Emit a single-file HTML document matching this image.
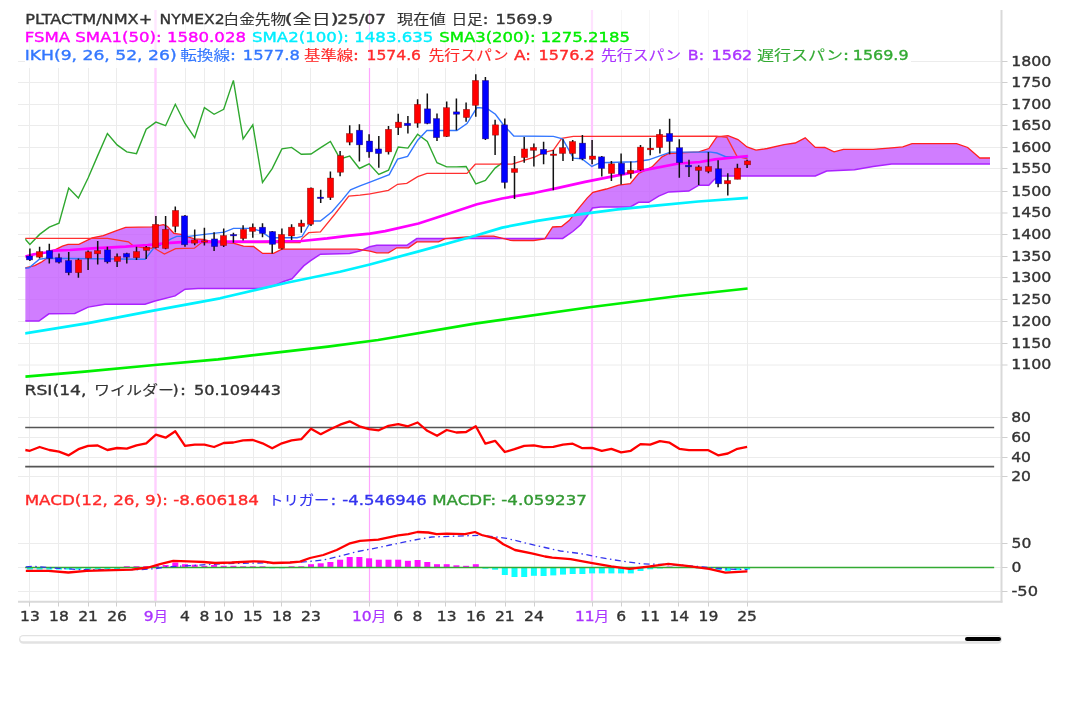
<!DOCTYPE html>
<html><head><meta charset="utf-8"><title>chart</title>
<style>html,body{margin:0;padding:0;background:#fff;} body{width:1080px;height:706px;position:relative;overflow:hidden;}</style>
</head><body>
<svg width="1080" height="706" viewBox="0 0 1080 706" style="position:absolute;left:0;top:0">
<defs><clipPath id="cp"><rect x="25.2" y="10" width="969.2" height="592"/></clipPath></defs>
<line x1="18" y1="365" x2="1001" y2="365" stroke="#ececec" stroke-width="1"/>
<line x1="18" y1="343.5" x2="1001" y2="343.5" stroke="#ececec" stroke-width="1"/>
<line x1="18" y1="321.5" x2="1001" y2="321.5" stroke="#ececec" stroke-width="1"/>
<line x1="18" y1="299.5" x2="1001" y2="299.5" stroke="#ececec" stroke-width="1"/>
<line x1="18" y1="277.5" x2="1001" y2="277.5" stroke="#ececec" stroke-width="1"/>
<line x1="18" y1="256.5" x2="1001" y2="256.5" stroke="#ececec" stroke-width="1"/>
<line x1="18" y1="234.5" x2="1001" y2="234.5" stroke="#ececec" stroke-width="1"/>
<line x1="18" y1="213" x2="1001" y2="213" stroke="#ececec" stroke-width="1"/>
<line x1="18" y1="191.5" x2="1001" y2="191.5" stroke="#ececec" stroke-width="1"/>
<line x1="18" y1="168.5" x2="1001" y2="168.5" stroke="#ececec" stroke-width="1"/>
<line x1="18" y1="147.5" x2="1001" y2="147.5" stroke="#ececec" stroke-width="1"/>
<line x1="18" y1="125.5" x2="1001" y2="125.5" stroke="#ececec" stroke-width="1"/>
<line x1="18" y1="104.5" x2="1001" y2="104.5" stroke="#ececec" stroke-width="1"/>
<line x1="18" y1="82.5" x2="1001" y2="82.5" stroke="#ececec" stroke-width="1"/>
<line x1="911" y1="61.5" x2="1001" y2="61.5" stroke="#ececec" stroke-width="1"/>
<line x1="18" y1="61.5" x2="25" y2="61.5" stroke="#ececec" stroke-width="1"/>
<line x1="18" y1="417.5" x2="1001" y2="417.5" stroke="#ececec" stroke-width="1"/>
<line x1="18" y1="437.5" x2="1001" y2="437.5" stroke="#ececec" stroke-width="1"/>
<line x1="18" y1="457.5" x2="1001" y2="457.5" stroke="#ececec" stroke-width="1"/>
<line x1="18" y1="476.5" x2="1001" y2="476.5" stroke="#ececec" stroke-width="1"/>
<line x1="18" y1="543.5" x2="1001" y2="543.5" stroke="#ececec" stroke-width="1"/>
<line x1="18" y1="567.5" x2="1001" y2="567.5" stroke="#ececec" stroke-width="1"/>
<line x1="18" y1="591.5" x2="1001" y2="591.5" stroke="#ececec" stroke-width="1"/>
<line x1="29.5" y1="10" x2="29.5" y2="601" stroke="#ececec" stroke-width="1"/>
<line x1="58.5" y1="10" x2="58.5" y2="601" stroke="#ececec" stroke-width="1"/>
<line x1="88.5" y1="10" x2="88.5" y2="601" stroke="#ececec" stroke-width="1"/>
<line x1="116.5" y1="10" x2="116.5" y2="601" stroke="#ececec" stroke-width="1"/>
<line x1="155.5" y1="10" x2="155.5" y2="601" stroke="#ffcfff" stroke-width="2.4"/>
<line x1="185.5" y1="10" x2="185.5" y2="601" stroke="#ececec" stroke-width="1"/>
<line x1="204.5" y1="10" x2="204.5" y2="601" stroke="#ececec" stroke-width="1"/>
<line x1="224.5" y1="10" x2="224.5" y2="601" stroke="#ececec" stroke-width="1"/>
<line x1="253.5" y1="10" x2="253.5" y2="601" stroke="#ececec" stroke-width="1"/>
<line x1="281.5" y1="10" x2="281.5" y2="601" stroke="#ececec" stroke-width="1"/>
<line x1="310.5" y1="10" x2="310.5" y2="601" stroke="#ececec" stroke-width="1"/>
<line x1="369.5" y1="10" x2="369.5" y2="601" stroke="#ffa6ff" stroke-width="1.2"/>
<line x1="397.5" y1="10" x2="397.5" y2="601" stroke="#ececec" stroke-width="1"/>
<line x1="418.5" y1="10" x2="418.5" y2="601" stroke="#ececec" stroke-width="1"/>
<line x1="445.5" y1="10" x2="445.5" y2="601" stroke="#ececec" stroke-width="1"/>
<line x1="475.5" y1="10" x2="475.5" y2="601" stroke="#ececec" stroke-width="1"/>
<line x1="505.5" y1="10" x2="505.5" y2="601" stroke="#ececec" stroke-width="1"/>
<line x1="534.5" y1="10" x2="534.5" y2="601" stroke="#ececec" stroke-width="1"/>
<line x1="592" y1="10" x2="592" y2="601" stroke="#ffc6ff" stroke-width="2.2"/>
<line x1="621.5" y1="10" x2="621.5" y2="601" stroke="#ececec" stroke-width="1"/>
<line x1="649.5" y1="10" x2="649.5" y2="601" stroke="#ececec" stroke-width="1"/>
<line x1="678.5" y1="10" x2="678.5" y2="601" stroke="#ececec" stroke-width="1"/>
<line x1="708.5" y1="10" x2="708.5" y2="601" stroke="#ececec" stroke-width="1"/>
<line x1="747.5" y1="10" x2="747.5" y2="601" stroke="#ececec" stroke-width="1"/>
<g clip-path="url(#cp)">
<polygon points="25.2,267.8 34.7,265.6 41.3,262.2 45.8,258.9 53.6,250.6 62.4,246.1 68.0,244.3 78.9,244.4 92.2,237.8 103.3,235.6 115.9,230.9 125.6,227.4 151.8,226.9 163.5,224.6 167.5,226.5 173.9,233.3 181.0,234.4 188.9,237.2 194.4,238.9 203.3,239.4 210.0,241.1 233.2,243.1 243.5,246.1 253.5,246.5 262.7,253.4 273.6,253.4 281.9,249.2 357.1,249.2 370.0,251.2 376.7,252.8 388.4,252.8 396.8,247.8 408.5,247.8 416.8,241.9 438.6,241.9 445.2,238.6 467.0,236.9 477.0,236.1 493.7,236.1 510.4,240.3 513.4,240.5 533.6,240.5 544.8,238.8 552.6,227.0 561.6,226.5 569.4,220.3 577.2,210.2 587.3,197.9 592.9,192.3 606.3,189.0 618.6,185.2 630.3,183.6 638.6,173.5 652.0,166.9 662.0,156.8 668.7,153.5 698.8,151.8 708.8,148.5 716.8,136.8 728.0,135.7 738.0,139.6 747.0,146.9 756.0,150.2 767.2,148.5 784.0,144.6 795.2,143.0 805.2,137.9 815.3,147.4 824.8,147.5 834.1,151.9 843.4,149.3 873.1,149.3 891.6,147.8 902.8,146.9 912.0,143.7 956.6,143.7 967.7,147.5 979.8,158.0 990.0,158.0 990.0,164.0 891.6,164.0 873.1,166.4 854.5,169.7 826.7,171.0 815.3,176.0 720.1,176.0 714.6,179.3 708.8,185.2 698.8,185.2 688.8,191.1 668.7,191.9 658.7,196.1 648.7,202.3 638.6,202.3 630.3,207.0 600.8,206.9 592.4,208.0 587.3,215.8 580.6,224.8 572.8,231.5 562.7,238.4 416.8,238.6 406.8,245.3 376.7,245.3 369.7,246.8 360.7,250.7 349.6,253.5 320.4,254.2 310.3,260.9 303.7,265.9 292.0,278.8 283.6,281.5 273.6,286.0 261.9,288.5 198.0,288.6 185.1,289.2 175.1,295.9 155.0,301.0 145.0,304.3 104.9,304.3 88.2,307.1 74.8,313.5 48.9,313.8 38.9,321.0 25.2,321.0" fill="#c45cff" fill-opacity="0.8" stroke="none"/>
<polyline points="25.2,321.0 38.9,321.0 48.9,313.8 74.8,313.5 88.2,307.1 104.9,304.3 145.0,304.3 155.0,301.0 175.1,295.9 185.1,289.2 198.0,288.6 261.9,288.5 273.6,286.0 283.6,281.5 292.0,278.8 303.7,265.9 310.3,260.9 320.4,254.2 349.6,253.5 360.7,250.7 369.7,246.8 376.7,245.3 406.8,245.3 416.8,238.6 562.7,238.4 572.8,231.5 580.6,224.8 587.3,215.8 592.4,208.0 600.8,206.9 630.3,207.0 638.6,202.3 648.7,202.3 658.7,196.1 668.7,191.9 688.8,191.1 698.8,185.2 708.8,185.2 714.6,179.3 720.1,176.0 815.3,176.0 826.7,171.0 854.5,169.7 873.1,166.4 891.6,164.0 990.0,164.0" fill="none" stroke="#aa22ff" stroke-width="1.5"/>
<polyline points="25.2,267.8 34.7,265.6 41.3,262.2 45.8,258.9 53.6,250.6 62.4,246.1 68.0,244.3 78.9,244.4 92.2,237.8 103.3,235.6 115.9,230.9 125.6,227.4 151.8,226.9 163.5,224.6 167.5,226.5 173.9,233.3 181.0,234.4 188.9,237.2 194.4,238.9 203.3,239.4 210.0,241.1 233.2,243.1 243.5,246.1 253.5,246.5 262.7,253.4 273.6,253.4 281.9,249.2 357.1,249.2 370.0,251.2 376.7,252.8 388.4,252.8 396.8,247.8 408.5,247.8 416.8,241.9 438.6,241.9 445.2,238.6 467.0,236.9 477.0,236.1 493.7,236.1 510.4,240.3 513.4,240.5 533.6,240.5 544.8,238.8 552.6,227.0 561.6,226.5 569.4,220.3 577.2,210.2 587.3,197.9 592.9,192.3 606.3,189.0 618.6,185.2 630.3,183.6 638.6,173.5 652.0,166.9 662.0,156.8 668.7,153.5 698.8,151.8 708.8,148.5 716.8,136.8 728.0,135.7 738.0,139.6 747.0,146.9 756.0,150.2 767.2,148.5 784.0,144.6 795.2,143.0 805.2,137.9 815.3,147.4 824.8,147.5 834.1,151.9 843.4,149.3 873.1,149.3 891.6,147.8 902.8,146.9 912.0,143.7 956.6,143.7 967.7,147.5 979.8,158.0 990.0,158.0" fill="none" stroke="#ff2020" stroke-width="1.3"/>
<polyline points="20.2,233.5 29.9,244.4 39.6,234.4 49.3,227.2 59.0,223.2 68.7,188.1 78.4,198.1 88.1,178.0 97.7,155.6 107.4,133.5 117.1,144.9 126.8,151.9 136.5,153.6 146.2,129.3 155.9,122.1 165.6,125.7 175.3,104.3 185.0,123.5 194.7,137.7 204.4,107.6 214.1,114.3 223.7,109.3 233.4,80.4 243.1,138.9 252.8,124.8 262.5,182.5 272.2,168.6 281.9,148.9 291.6,147.4 301.3,154.3 311.0,154.0 320.7,147.6 330.4,141.5 340.1,158.8 349.7,156.0 359.4,168.5 369.1,163.8 378.8,174.4 388.5,170.2 398.2,147.1 407.9,148.1 417.6,134.3 427.3,141.5 437.0,162.7 446.7,166.9 456.4,166.9 466.1,166.5 475.8,183.8 485.4,180.5 495.1,168.1 504.8,160.9" fill="none" stroke="#2fa82f" stroke-width="1.4"/>
<polyline points="25.2,238.3 107.5,238.4 128.4,241.8 133.4,246.0 145.1,248.0 154.4,248.3 164.4,254.1 175.6,248.6 194.4,248.2 201.6,242.6 300.0,242.6 302.0,238.6 308.7,232.7 320.4,231.9 335.4,213.5 348.8,196.0 360.0,195.1 370.0,193.8 388.4,190.4 397.6,184.3 406.8,183.4 417.7,176.7 426.9,173.4 467.0,173.4 475.3,164.2 512.1,164.2 535.0,156.8 543.4,152.6 553.4,150.1 561.7,138.4 573.4,136.4 716.8,136.2 726.9,137.4 737.0,156.4 747.6,158.9" fill="none" stroke="#ff3030" stroke-width="1.3"/>
<polyline points="25.2,268.3 29.1,267.8 39.1,259.4 45.8,258.3 145.1,259.2 153.5,248.4 160.2,245.1 171.1,238.9 176.7,236.4 181.1,236.1 188.9,236.4 204.4,234.4 224.3,232.1 233.5,228.4 251.0,228.4 260.2,230.9 268.6,236.7 271.9,237.7 297.0,237.7 302.0,236.5 308.7,225.2 313.7,221.0 320.4,221.0 332.0,211.8 342.1,200.1 350.5,189.8 360.0,185.9 370.0,182.1 389.2,174.7 397.6,159.2 407.6,156.4 417.7,140.2 426.9,130.5 456.9,130.5 467.0,123.5 477.0,107.6 487.0,108.4 495.4,114.3 503.7,125.2 513.8,136.0 553.4,136.4 562.6,138.8 573.4,158.2 581.8,158.8 591.8,166.5 600.2,162.7 635.3,161.8 648.7,159.8 662.0,155.2 670.4,152.1 702.1,152.1 709.0,151.9 716.8,153.0 725.7,156.7 737.0,156.7 747.6,157.5" fill="none" stroke="#3377ff" stroke-width="1.4"/>
<polyline points="25.3,376.7 84.7,371.7 154.7,365.0 218.0,359.3 284.7,351.7 328.0,346.7 378.0,340.0 474.8,323.7 591.5,307.0 678.5,296.0 747.6,288.5" fill="none" stroke="#00f000" stroke-width="2.7" stroke-linejoin="round"/>
<polyline points="25.0,333.3 86.7,323.3 153.3,310.7 220.0,298.3 286.7,282.7 340.0,271.7 369.8,264.5 417.8,251.6 470.0,237.2 502.2,227.6 537.1,220.9 577.4,214.7 617.7,209.3 658.0,205.3 698.3,201.5 748.0,197.9" fill="none" stroke="#00f2ff" stroke-width="2.7" stroke-linejoin="round"/>
<polyline points="25.2,256.7 33.6,254.4 45.8,252.5 53.6,250.6 70.0,250.0 92.2,248.3 125.6,246.7 147.8,245.0 170.0,242.8 190.0,241.7 260.0,241.6 301.4,241.0 327.2,238.4 349.6,235.6 370.0,233.6 385.1,231.1 418.5,223.5 446.9,214.3 477.0,204.3 502.1,198.5 535.0,192.8 556.0,188.4 585.1,181.9 635.3,171.9 678.7,163.5 700.0,162.0 715.0,159.3 748.1,156.0" fill="none" stroke="#ff00ff" stroke-width="2.7" stroke-linejoin="round"/>
<line x1="29.9" y1="248.5" x2="29.9" y2="261.0" stroke="#111" stroke-width="1.5"/>
<rect x="26.3" y="256.0" width="6.4" height="3.9" fill="#0000ff" stroke="rgba(50,0,0,0.45)" stroke-width="0.6"/>
<line x1="39.6" y1="246.8" x2="39.6" y2="258.5" stroke="#111" stroke-width="1.5"/>
<rect x="36.3" y="251.5" width="6.4" height="5.7" fill="#ff0000" stroke="rgba(50,0,0,0.45)" stroke-width="0.6"/>
<line x1="49.3" y1="243.8" x2="49.3" y2="263.5" stroke="#111" stroke-width="1.5"/>
<rect x="46.3" y="250.5" width="6.4" height="8.0" fill="#0000ff" stroke="rgba(50,0,0,0.45)" stroke-width="0.6"/>
<line x1="59.0" y1="253.5" x2="59.0" y2="263.5" stroke="#111" stroke-width="1.5"/>
<rect x="55.3" y="257.7" width="6.4" height="4.5" fill="#0000ff" stroke="rgba(50,0,0,0.45)" stroke-width="0.6"/>
<line x1="68.7" y1="252.0" x2="68.7" y2="275.2" stroke="#111" stroke-width="1.5"/>
<rect x="65.3" y="260.5" width="6.4" height="12.2" fill="#0000ff" stroke="rgba(50,0,0,0.45)" stroke-width="0.6"/>
<line x1="78.4" y1="258.5" x2="78.4" y2="277.7" stroke="#111" stroke-width="1.5"/>
<rect x="75.3" y="259.9" width="6.4" height="12.8" fill="#ff0000" stroke="rgba(50,0,0,0.45)" stroke-width="0.6"/>
<line x1="88.1" y1="250.5" x2="88.1" y2="270.0" stroke="#111" stroke-width="1.5"/>
<rect x="85.3" y="251.8" width="6.4" height="6.4" fill="#ff0000" stroke="rgba(50,0,0,0.45)" stroke-width="0.6"/>
<line x1="97.7" y1="241.0" x2="97.7" y2="264.4" stroke="#111" stroke-width="1.5"/>
<rect x="94.3" y="250.5" width="6.4" height="3.3" fill="#ff0000" stroke="rgba(50,0,0,0.45)" stroke-width="0.6"/>
<line x1="107.4" y1="246.8" x2="107.4" y2="263.5" stroke="#111" stroke-width="1.5"/>
<rect x="104.3" y="249.8" width="6.4" height="12.1" fill="#0000ff" stroke="rgba(50,0,0,0.45)" stroke-width="0.6"/>
<line x1="117.1" y1="253.5" x2="117.1" y2="266.9" stroke="#111" stroke-width="1.5"/>
<rect x="114.3" y="256.5" width="6.4" height="5.0" fill="#ff0000" stroke="rgba(50,0,0,0.45)" stroke-width="0.6"/>
<line x1="126.8" y1="252.7" x2="126.8" y2="263.5" stroke="#111" stroke-width="1.5"/>
<rect x="123.3" y="253.5" width="6.4" height="3.7" fill="#0000ff" stroke="rgba(50,0,0,0.45)" stroke-width="0.6"/>
<line x1="136.5" y1="246.8" x2="136.5" y2="259.9" stroke="#111" stroke-width="1.5"/>
<rect x="133.3" y="251.5" width="6.4" height="6.2" fill="#ff0000" stroke="rgba(50,0,0,0.45)" stroke-width="0.6"/>
<line x1="146.2" y1="246.0" x2="146.2" y2="258.9" stroke="#111" stroke-width="1.5"/>
<rect x="143.3" y="247.2" width="6.4" height="3.3" fill="#ff0000" stroke="rgba(50,0,0,0.45)" stroke-width="0.6"/>
<line x1="155.9" y1="215.9" x2="155.9" y2="248.5" stroke="#111" stroke-width="1.5"/>
<rect x="152.3" y="224.3" width="6.4" height="23.4" fill="#ff0000" stroke="rgba(50,0,0,0.45)" stroke-width="0.6"/>
<line x1="165.6" y1="215.9" x2="165.6" y2="249.3" stroke="#111" stroke-width="1.5"/>
<rect x="162.3" y="229.3" width="6.4" height="19.2" fill="#ff0000" stroke="rgba(50,0,0,0.45)" stroke-width="0.6"/>
<line x1="175.3" y1="206.4" x2="175.3" y2="232.6" stroke="#111" stroke-width="1.5"/>
<rect x="172.3" y="210.4" width="6.4" height="16.0" fill="#ff0000" stroke="rgba(50,0,0,0.45)" stroke-width="0.6"/>
<line x1="185.0" y1="215.0" x2="185.0" y2="246.8" stroke="#111" stroke-width="1.5"/>
<rect x="181.3" y="215.9" width="6.4" height="28.9" fill="#0000ff" stroke="rgba(50,0,0,0.45)" stroke-width="0.6"/>
<line x1="194.7" y1="229.4" x2="194.7" y2="245.2" stroke="#111" stroke-width="1.5"/>
<rect x="191.3" y="239.9" width="6.4" height="3.3" fill="#ff0000" stroke="rgba(50,0,0,0.45)" stroke-width="0.6"/>
<line x1="204.4" y1="227.7" x2="204.4" y2="245.6" stroke="#111" stroke-width="1.5"/>
<rect x="201.3" y="240.7" width="6.4" height="1.5" fill="#ff0000" stroke="rgba(50,0,0,0.45)" stroke-width="0.6"/>
<line x1="214.1" y1="232.2" x2="214.1" y2="251.0" stroke="#111" stroke-width="1.5"/>
<rect x="211.3" y="238.9" width="6.4" height="7.7" fill="#0000ff" stroke="rgba(50,0,0,0.45)" stroke-width="0.6"/>
<line x1="223.7" y1="228.5" x2="223.7" y2="246.9" stroke="#111" stroke-width="1.5"/>
<rect x="220.3" y="235.5" width="6.4" height="10.1" fill="#ff0000" stroke="rgba(50,0,0,0.45)" stroke-width="0.6"/>
<line x1="233.4" y1="232.7" x2="233.4" y2="242.7" stroke="#111" stroke-width="1.5"/>
<rect x="230.3" y="234.4" width="6.4" height="1.5" fill="#0000ff" stroke="rgba(50,0,0,0.45)" stroke-width="0.6"/>
<line x1="243.1" y1="225.2" x2="243.1" y2="240.6" stroke="#111" stroke-width="1.5"/>
<rect x="240.3" y="229.4" width="6.4" height="9.2" fill="#ff0000" stroke="rgba(50,0,0,0.45)" stroke-width="0.6"/>
<line x1="252.8" y1="223.5" x2="252.8" y2="237.7" stroke="#111" stroke-width="1.5"/>
<rect x="249.3" y="227.2" width="6.4" height="4.3" fill="#ff0000" stroke="rgba(50,0,0,0.45)" stroke-width="0.6"/>
<line x1="262.5" y1="223.2" x2="262.5" y2="237.2" stroke="#111" stroke-width="1.5"/>
<rect x="259.3" y="227.2" width="6.4" height="6.3" fill="#0000ff" stroke="rgba(50,0,0,0.45)" stroke-width="0.6"/>
<line x1="272.2" y1="231.0" x2="272.2" y2="253.6" stroke="#111" stroke-width="1.5"/>
<rect x="269.3" y="231.5" width="6.4" height="12.9" fill="#0000ff" stroke="rgba(50,0,0,0.45)" stroke-width="0.6"/>
<line x1="281.9" y1="228.5" x2="281.9" y2="249.4" stroke="#111" stroke-width="1.5"/>
<rect x="278.3" y="234.4" width="6.4" height="14.2" fill="#ff0000" stroke="rgba(50,0,0,0.45)" stroke-width="0.6"/>
<line x1="291.6" y1="224.3" x2="291.6" y2="239.9" stroke="#111" stroke-width="1.5"/>
<rect x="288.3" y="227.2" width="6.4" height="8.8" fill="#ff0000" stroke="rgba(50,0,0,0.45)" stroke-width="0.6"/>
<line x1="301.3" y1="219.8" x2="301.3" y2="232.7" stroke="#111" stroke-width="1.5"/>
<rect x="298.3" y="223.2" width="6.4" height="3.3" fill="#ff0000" stroke="rgba(50,0,0,0.45)" stroke-width="0.6"/>
<line x1="311.0" y1="187.6" x2="311.0" y2="226.0" stroke="#111" stroke-width="1.5"/>
<rect x="307.3" y="188.1" width="6.4" height="36.2" fill="#ff0000" stroke="rgba(50,0,0,0.45)" stroke-width="0.6"/>
<line x1="320.7" y1="189.8" x2="320.7" y2="203.1" stroke="#111" stroke-width="1.5"/>
<rect x="317.3" y="197.1" width="6.4" height="1.5" fill="#0000ff" stroke="rgba(50,0,0,0.45)" stroke-width="0.6"/>
<line x1="330.4" y1="171.4" x2="330.4" y2="200.1" stroke="#111" stroke-width="1.5"/>
<rect x="327.3" y="178.0" width="6.4" height="19.6" fill="#ff0000" stroke="rgba(50,0,0,0.45)" stroke-width="0.6"/>
<line x1="340.1" y1="151.0" x2="340.1" y2="176.2" stroke="#111" stroke-width="1.5"/>
<rect x="337.3" y="155.6" width="6.4" height="16.7" fill="#ff0000" stroke="rgba(50,0,0,0.45)" stroke-width="0.6"/>
<line x1="349.7" y1="125.2" x2="349.7" y2="145.2" stroke="#111" stroke-width="1.5"/>
<rect x="346.3" y="133.5" width="6.4" height="8.7" fill="#ff0000" stroke="rgba(50,0,0,0.45)" stroke-width="0.6"/>
<line x1="359.4" y1="124.3" x2="359.4" y2="161.6" stroke="#111" stroke-width="1.5"/>
<rect x="356.3" y="130.2" width="6.4" height="14.7" fill="#0000ff" stroke="rgba(50,0,0,0.45)" stroke-width="0.6"/>
<line x1="369.1" y1="134.3" x2="369.1" y2="157.7" stroke="#111" stroke-width="1.5"/>
<rect x="366.3" y="141.0" width="6.4" height="10.9" fill="#0000ff" stroke="rgba(50,0,0,0.45)" stroke-width="0.6"/>
<line x1="378.8" y1="136.0" x2="378.8" y2="167.8" stroke="#111" stroke-width="1.5"/>
<rect x="375.3" y="148.9" width="6.4" height="4.7" fill="#0000ff" stroke="rgba(50,0,0,0.45)" stroke-width="0.6"/>
<line x1="388.5" y1="126.0" x2="388.5" y2="154.4" stroke="#111" stroke-width="1.5"/>
<rect x="385.3" y="129.3" width="6.4" height="22.6" fill="#ff0000" stroke="rgba(50,0,0,0.45)" stroke-width="0.6"/>
<line x1="398.2" y1="113.8" x2="398.2" y2="134.9" stroke="#111" stroke-width="1.5"/>
<rect x="395.3" y="122.1" width="6.4" height="5.6" fill="#ff0000" stroke="rgba(50,0,0,0.45)" stroke-width="0.6"/>
<line x1="407.9" y1="116.0" x2="407.9" y2="133.5" stroke="#111" stroke-width="1.5"/>
<rect x="404.3" y="123.2" width="6.4" height="2.5" fill="#0000ff" stroke="rgba(50,0,0,0.45)" stroke-width="0.6"/>
<line x1="417.6" y1="99.2" x2="417.6" y2="127.7" stroke="#111" stroke-width="1.5"/>
<rect x="414.3" y="104.3" width="6.4" height="18.9" fill="#ff0000" stroke="rgba(50,0,0,0.45)" stroke-width="0.6"/>
<line x1="427.3" y1="93.4" x2="427.3" y2="124.3" stroke="#111" stroke-width="1.5"/>
<rect x="424.3" y="108.8" width="6.4" height="14.7" fill="#0000ff" stroke="rgba(50,0,0,0.45)" stroke-width="0.6"/>
<line x1="437.0" y1="113.5" x2="437.0" y2="141.0" stroke="#111" stroke-width="1.5"/>
<rect x="433.3" y="118.5" width="6.4" height="19.2" fill="#0000ff" stroke="rgba(50,0,0,0.45)" stroke-width="0.6"/>
<line x1="446.7" y1="101.4" x2="446.7" y2="136.9" stroke="#111" stroke-width="1.5"/>
<rect x="443.3" y="107.6" width="6.4" height="28.9" fill="#ff0000" stroke="rgba(50,0,0,0.45)" stroke-width="0.6"/>
<line x1="456.4" y1="98.4" x2="456.4" y2="130.2" stroke="#111" stroke-width="1.5"/>
<rect x="453.3" y="111.8" width="6.4" height="2.5" fill="#0000ff" stroke="rgba(50,0,0,0.45)" stroke-width="0.6"/>
<line x1="466.1" y1="102.6" x2="466.1" y2="121.8" stroke="#111" stroke-width="1.5"/>
<rect x="463.3" y="109.3" width="6.4" height="8.3" fill="#ff0000" stroke="rgba(50,0,0,0.45)" stroke-width="0.6"/>
<line x1="475.8" y1="74.2" x2="475.8" y2="116.8" stroke="#111" stroke-width="1.5"/>
<rect x="472.3" y="80.4" width="6.4" height="25.0" fill="#ff0000" stroke="rgba(50,0,0,0.45)" stroke-width="0.6"/>
<line x1="485.4" y1="77.0" x2="485.4" y2="139.9" stroke="#111" stroke-width="1.5"/>
<rect x="482.3" y="80.4" width="6.4" height="58.5" fill="#0000ff" stroke="rgba(50,0,0,0.45)" stroke-width="0.6"/>
<line x1="495.1" y1="119.8" x2="495.1" y2="154.9" stroke="#111" stroke-width="1.5"/>
<rect x="492.3" y="124.8" width="6.4" height="10.4" fill="#ff0000" stroke="rgba(50,0,0,0.45)" stroke-width="0.6"/>
<line x1="504.8" y1="118.5" x2="504.8" y2="188.4" stroke="#111" stroke-width="1.5"/>
<rect x="501.3" y="124.8" width="6.4" height="57.7" fill="#0000ff" stroke="rgba(50,0,0,0.45)" stroke-width="0.6"/>
<line x1="514.5" y1="156.0" x2="514.5" y2="199.0" stroke="#111" stroke-width="1.5"/>
<rect x="511.3" y="168.6" width="6.4" height="3.9" fill="#ff0000" stroke="rgba(50,0,0,0.45)" stroke-width="0.6"/>
<line x1="524.2" y1="136.9" x2="524.2" y2="162.7" stroke="#111" stroke-width="1.5"/>
<rect x="521.3" y="148.9" width="6.4" height="8.7" fill="#ff0000" stroke="rgba(50,0,0,0.45)" stroke-width="0.6"/>
<line x1="533.9" y1="143.5" x2="533.9" y2="166.6" stroke="#111" stroke-width="1.5"/>
<rect x="530.3" y="147.4" width="6.4" height="3.0" fill="#ff0000" stroke="rgba(50,0,0,0.45)" stroke-width="0.6"/>
<line x1="543.6" y1="141.8" x2="543.6" y2="164.3" stroke="#111" stroke-width="1.5"/>
<rect x="540.3" y="149.3" width="6.4" height="5.0" fill="#0000ff" stroke="rgba(50,0,0,0.45)" stroke-width="0.6"/>
<line x1="553.3" y1="150.1" x2="553.3" y2="190.2" stroke="#111" stroke-width="1.5"/>
<rect x="550.3" y="154.0" width="6.4" height="1.5" fill="#ff0000" stroke="rgba(50,0,0,0.45)" stroke-width="0.6"/>
<line x1="563.0" y1="139.3" x2="563.0" y2="161.0" stroke="#111" stroke-width="1.5"/>
<rect x="559.3" y="147.6" width="6.4" height="5.9" fill="#ff0000" stroke="rgba(50,0,0,0.45)" stroke-width="0.6"/>
<line x1="572.7" y1="140.1" x2="572.7" y2="161.0" stroke="#111" stroke-width="1.5"/>
<rect x="569.3" y="141.5" width="6.4" height="12.0" fill="#ff0000" stroke="rgba(50,0,0,0.45)" stroke-width="0.6"/>
<line x1="582.4" y1="135.1" x2="582.4" y2="160.2" stroke="#111" stroke-width="1.5"/>
<rect x="579.3" y="143.1" width="6.4" height="15.7" fill="#0000ff" stroke="rgba(50,0,0,0.45)" stroke-width="0.6"/>
<line x1="592.1" y1="140.1" x2="592.1" y2="164.3" stroke="#111" stroke-width="1.5"/>
<rect x="589.3" y="156.0" width="6.4" height="3.3" fill="#ff0000" stroke="rgba(50,0,0,0.45)" stroke-width="0.6"/>
<line x1="601.8" y1="156.0" x2="601.8" y2="176.5" stroke="#111" stroke-width="1.5"/>
<rect x="598.3" y="156.8" width="6.4" height="11.7" fill="#0000ff" stroke="rgba(50,0,0,0.45)" stroke-width="0.6"/>
<line x1="611.4" y1="161.0" x2="611.4" y2="181.1" stroke="#111" stroke-width="1.5"/>
<rect x="608.3" y="163.8" width="6.4" height="9.7" fill="#ff0000" stroke="rgba(50,0,0,0.45)" stroke-width="0.6"/>
<line x1="621.1" y1="153.5" x2="621.1" y2="184.4" stroke="#111" stroke-width="1.5"/>
<rect x="618.3" y="163.2" width="6.4" height="11.2" fill="#0000ff" stroke="rgba(50,0,0,0.45)" stroke-width="0.6"/>
<line x1="630.8" y1="161.5" x2="630.8" y2="178.6" stroke="#111" stroke-width="1.5"/>
<rect x="627.3" y="170.2" width="6.4" height="3.3" fill="#ff0000" stroke="rgba(50,0,0,0.45)" stroke-width="0.6"/>
<line x1="640.5" y1="145.1" x2="640.5" y2="171.0" stroke="#111" stroke-width="1.5"/>
<rect x="637.3" y="147.1" width="6.4" height="22.8" fill="#ff0000" stroke="rgba(50,0,0,0.45)" stroke-width="0.6"/>
<line x1="650.2" y1="138.1" x2="650.2" y2="155.2" stroke="#111" stroke-width="1.5"/>
<rect x="647.3" y="148.1" width="6.4" height="1.7" fill="#ff0000" stroke="rgba(50,0,0,0.45)" stroke-width="0.6"/>
<line x1="659.9" y1="129.2" x2="659.9" y2="153.5" stroke="#111" stroke-width="1.5"/>
<rect x="656.3" y="134.3" width="6.4" height="13.3" fill="#ff0000" stroke="rgba(50,0,0,0.45)" stroke-width="0.6"/>
<line x1="669.6" y1="118.7" x2="669.6" y2="154.3" stroke="#111" stroke-width="1.5"/>
<rect x="666.3" y="133.4" width="6.4" height="8.1" fill="#0000ff" stroke="rgba(50,0,0,0.45)" stroke-width="0.6"/>
<line x1="679.3" y1="139.3" x2="679.3" y2="177.7" stroke="#111" stroke-width="1.5"/>
<rect x="676.3" y="147.6" width="6.4" height="15.1" fill="#0000ff" stroke="rgba(50,0,0,0.45)" stroke-width="0.6"/>
<line x1="689.0" y1="159.8" x2="689.0" y2="176.9" stroke="#111" stroke-width="1.5"/>
<rect x="685.3" y="165.2" width="6.4" height="1.7" fill="#0000ff" stroke="rgba(50,0,0,0.45)" stroke-width="0.6"/>
<line x1="698.7" y1="165.2" x2="698.7" y2="184.9" stroke="#111" stroke-width="1.5"/>
<rect x="695.3" y="166.9" width="6.4" height="3.6" fill="#ff0000" stroke="rgba(50,0,0,0.45)" stroke-width="0.6"/>
<line x1="708.4" y1="151.9" x2="708.4" y2="173.2" stroke="#111" stroke-width="1.5"/>
<rect x="705.3" y="166.5" width="6.4" height="5.0" fill="#ff0000" stroke="rgba(50,0,0,0.45)" stroke-width="0.6"/>
<line x1="718.1" y1="160.3" x2="718.1" y2="187.2" stroke="#111" stroke-width="1.5"/>
<rect x="715.3" y="168.7" width="6.4" height="15.1" fill="#0000ff" stroke="rgba(50,0,0,0.45)" stroke-width="0.6"/>
<line x1="727.8" y1="173.2" x2="727.8" y2="195.6" stroke="#111" stroke-width="1.5"/>
<rect x="724.3" y="180.5" width="6.4" height="3.3" fill="#ff0000" stroke="rgba(50,0,0,0.45)" stroke-width="0.6"/>
<line x1="737.4" y1="163.7" x2="737.4" y2="179.3" stroke="#111" stroke-width="1.5"/>
<rect x="734.3" y="168.1" width="6.4" height="11.2" fill="#ff0000" stroke="rgba(50,0,0,0.45)" stroke-width="0.6"/>
<line x1="747.1" y1="159.7" x2="747.1" y2="168.1" stroke="#111" stroke-width="1.5"/>
<rect x="744.3" y="160.9" width="6.4" height="3.9" fill="#ff0000" stroke="rgba(50,0,0,0.45)" stroke-width="0.6"/>
<line x1="25" y1="427.5" x2="994.4" y2="427.5" stroke="#555" stroke-width="1.6"/>
<line x1="25" y1="466.6" x2="994.4" y2="466.6" stroke="#555" stroke-width="1.6"/>
<polyline points="25.2,450.0 29.9,450.8 39.6,447.0 49.3,450.0 59.0,451.7 68.7,455.3 78.4,449.2 88.1,445.8 97.7,445.5 107.4,450.0 117.1,448.0 126.8,448.7 136.5,445.3 146.2,443.3 155.9,434.7 165.6,437.7 175.3,431.3 185.0,445.8 194.7,444.7 204.4,444.7 214.1,447.0 223.7,443.0 233.4,442.5 243.1,440.3 252.8,440.0 262.5,443.3 272.2,448.3 281.9,443.3 291.6,440.3 301.3,439.2 311.0,428.8 320.7,434.2 330.4,429.2 340.1,424.7 349.7,421.3 359.4,426.3 369.1,429.2 378.8,430.3 388.5,425.8 398.2,424.2 407.9,426.3 417.6,422.5 427.3,430.8 437.0,435.8 446.7,430.0 456.4,432.5 466.1,432.0 475.8,426.3 485.4,443.7 495.1,440.8 504.8,452.0 514.5,449.2 524.2,445.8 533.9,445.3 543.6,447.2 553.3,446.8 563.0,444.7 572.7,443.7 582.4,448.2 592.1,447.8 601.8,450.8 611.4,448.8 621.1,452.3 630.8,450.8 640.5,444.1 650.2,444.7 659.9,441.1 669.6,442.7 679.3,448.8 689.0,450.2 698.7,450.2 708.4,450.2 718.1,455.3 727.8,453.5 737.4,448.8 747.1,446.8" fill="none" stroke="#ff0000" stroke-width="2.3" stroke-linejoin="round"/>
<rect x="26.9" y="567.5" width="6" height="2.1" fill="#11ffff"/>
<rect x="36.6" y="567.5" width="6" height="2.1" fill="#11ffff"/>
<rect x="46.3" y="567.5" width="6" height="2.1" fill="#11ffff"/>
<rect x="56.0" y="567.5" width="6" height="2.1" fill="#11ffff"/>
<rect x="65.7" y="567.5" width="6" height="2.1" fill="#11ffff"/>
<rect x="75.4" y="567.5" width="6" height="2.1" fill="#11ffff"/>
<rect x="85.1" y="567.5" width="6" height="2.1" fill="#11ffff"/>
<rect x="94.7" y="567.5" width="6" height="2.1" fill="#11ffff"/>
<rect x="104.4" y="567.5" width="6" height="2.1" fill="#11ffff"/>
<rect x="114.1" y="567.5" width="6" height="2.1" fill="#11ffff"/>
<rect x="123.8" y="566.2" width="6" height="1.3" fill="#ff11ff"/>
<rect x="133.5" y="566.2" width="6" height="1.3" fill="#ff11ff"/>
<rect x="143.2" y="566.2" width="6" height="1.3" fill="#ff11ff"/>
<rect x="152.9" y="565.5" width="6" height="2.0" fill="#ff11ff"/>
<rect x="162.6" y="565.0" width="6" height="2.5" fill="#ff11ff"/>
<rect x="172.3" y="562.5" width="6" height="5.0" fill="#ff11ff"/>
<rect x="182.0" y="564.2" width="6" height="3.3" fill="#ff11ff"/>
<rect x="191.7" y="564.7" width="6" height="2.8" fill="#ff11ff"/>
<rect x="201.4" y="565.8" width="6" height="1.7" fill="#ff11ff"/>
<rect x="211.1" y="565.0" width="6" height="2.5" fill="#ff11ff"/>
<rect x="220.7" y="565.8" width="6" height="1.7" fill="#ff11ff"/>
<rect x="230.4" y="565.8" width="6" height="1.7" fill="#ff11ff"/>
<rect x="240.1" y="566.3" width="6" height="1.2" fill="#ff11ff"/>
<rect x="249.8" y="566.3" width="6" height="1.2" fill="#ff11ff"/>
<rect x="259.5" y="566.3" width="6" height="1.2" fill="#ff11ff"/>
<rect x="269.2" y="567.5" width="6" height="0.8" fill="#11ffff"/>
<rect x="278.9" y="567.5" width="6" height="0.8" fill="#11ffff"/>
<rect x="288.6" y="566.3" width="6" height="1.2" fill="#ff11ff"/>
<rect x="298.3" y="566.3" width="6" height="1.2" fill="#ff11ff"/>
<rect x="308.0" y="564.2" width="6" height="3.3" fill="#ff11ff"/>
<rect x="317.7" y="563.3" width="6" height="4.2" fill="#ff11ff"/>
<rect x="327.4" y="562.0" width="6" height="5.5" fill="#ff11ff"/>
<rect x="337.1" y="559.7" width="6" height="7.8" fill="#ff11ff"/>
<rect x="346.7" y="557.0" width="6" height="10.5" fill="#ff11ff"/>
<rect x="356.4" y="557.0" width="6" height="10.5" fill="#ff11ff"/>
<rect x="366.1" y="558.3" width="6" height="9.2" fill="#ff11ff"/>
<rect x="375.8" y="559.7" width="6" height="7.8" fill="#ff11ff"/>
<rect x="385.5" y="559.7" width="6" height="7.8" fill="#ff11ff"/>
<rect x="395.2" y="559.7" width="6" height="7.8" fill="#ff11ff"/>
<rect x="404.9" y="560.8" width="6" height="6.7" fill="#ff11ff"/>
<rect x="414.6" y="560.0" width="6" height="7.5" fill="#ff11ff"/>
<rect x="424.3" y="562.0" width="6" height="5.5" fill="#ff11ff"/>
<rect x="434.0" y="564.2" width="6" height="3.3" fill="#ff11ff"/>
<rect x="443.7" y="564.2" width="6" height="3.3" fill="#ff11ff"/>
<rect x="453.4" y="565.3" width="6" height="2.2" fill="#ff11ff"/>
<rect x="463.1" y="565.8" width="6" height="1.7" fill="#ff11ff"/>
<rect x="472.8" y="564.2" width="6" height="3.3" fill="#ff11ff"/>
<rect x="482.4" y="567.5" width="6" height="1.2" fill="#11ffff"/>
<rect x="492.1" y="567.5" width="6" height="2.2" fill="#11ffff"/>
<rect x="501.8" y="567.5" width="6" height="7.5" fill="#11ffff"/>
<rect x="511.5" y="567.5" width="6" height="9.5" fill="#11ffff"/>
<rect x="521.2" y="567.5" width="6" height="9.5" fill="#11ffff"/>
<rect x="530.9" y="567.5" width="6" height="8.3" fill="#11ffff"/>
<rect x="540.6" y="567.5" width="6" height="8.5" fill="#11ffff"/>
<rect x="550.3" y="567.5" width="6" height="7.9" fill="#11ffff"/>
<rect x="560.0" y="567.5" width="6" height="7.1" fill="#11ffff"/>
<rect x="569.7" y="567.5" width="6" height="6.5" fill="#11ffff"/>
<rect x="579.4" y="567.5" width="6" height="6.5" fill="#11ffff"/>
<rect x="589.1" y="567.5" width="6" height="5.9" fill="#11ffff"/>
<rect x="598.8" y="567.5" width="6" height="5.9" fill="#11ffff"/>
<rect x="608.4" y="567.5" width="6" height="5.9" fill="#11ffff"/>
<rect x="618.1" y="567.5" width="6" height="5.9" fill="#11ffff"/>
<rect x="627.8" y="567.5" width="6" height="5.9" fill="#11ffff"/>
<rect x="637.5" y="567.5" width="6" height="3.5" fill="#11ffff"/>
<rect x="647.2" y="567.5" width="6" height="1.8" fill="#11ffff"/>
<rect x="656.9" y="567.5" width="6" height="1.0" fill="#11ffff"/>
<rect x="666.6" y="566.5" width="6" height="1.0" fill="#ff11ff"/>
<rect x="676.3" y="566.8" width="6" height="0.7" fill="#ff11ff"/>
<rect x="686.0" y="567.5" width="6" height="0.3" fill="#11ffff"/>
<rect x="695.7" y="567.5" width="6" height="1.0" fill="#11ffff"/>
<rect x="705.4" y="567.5" width="6" height="1.3" fill="#11ffff"/>
<rect x="715.1" y="567.5" width="6" height="2.5" fill="#11ffff"/>
<rect x="724.8" y="567.5" width="6" height="3.7" fill="#11ffff"/>
<rect x="734.4" y="567.5" width="6" height="2.7" fill="#11ffff"/>
<rect x="744.1" y="567.5" width="6" height="2.0" fill="#11ffff"/>
<line x1="25" y1="567.5" x2="994.4" y2="567.5" stroke="#33aa33" stroke-width="1.3"/>
<polyline points="25.8,566.8 33.3,566.3 58.3,568.3 81.7,569.7 138.3,569.7 155.0,568.7 165.0,567.0 195.0,565.3 223.3,563.7 256.7,563.0 290.0,562.5 306.7,561.7 323.3,560.0 343.3,555.3 356.7,551.7 370.0,549.2 390.0,545.0 410.0,540.8 431.7,537.0 465.0,535.8 481.7,535.3 506.7,538.3 523.3,542.5 545.0,547.5 560.4,551.0 580.7,553.6 601.1,557.7 621.5,561.1 641.9,563.8 662.2,564.4 682.6,565.2 703.0,566.9 723.3,568.9 743.7,569.5 747.6,569.7" fill="none" stroke="#3333ee" stroke-width="1.3" stroke-dasharray="6,3.5,1.5,3.5"/>
<polyline points="25.8,570.8 48.3,570.8 68.3,572.5 86.7,570.8 131.7,569.7 148.3,567.5 160.0,564.2 173.3,560.8 195.0,561.7 203.3,562.0 215.0,563.0 231.7,562.5 253.3,561.3 263.3,561.7 273.3,563.0 290.0,562.5 300.0,561.7 310.0,558.0 323.3,555.0 336.7,550.0 350.0,543.3 360.0,540.8 378.3,539.7 398.3,535.3 408.3,534.2 417.5,532.0 428.3,532.5 436.7,534.2 446.7,533.7 465.0,534.2 475.0,532.0 481.7,535.0 495.0,538.3 503.3,544.2 515.0,550.0 531.7,553.3 545.0,556.5 552.2,557.7 570.6,559.1 590.9,562.8 611.3,566.4 629.6,568.9 650.0,566.4 668.3,563.8 686.7,565.8 709.1,568.9 725.4,572.6 747.4,571.3" fill="none" stroke="#ff0000" stroke-width="2.3" stroke-linejoin="round"/>
</g>
<line x1="1001.5" y1="10" x2="1001.5" y2="602.5" stroke="#d9d9d9" stroke-width="2"/>
<line x1="18" y1="601.8" x2="1002.5" y2="601.8" stroke="#d9d9d9" stroke-width="2"/>
<line x1="1002" y1="365" x2="1007.5" y2="365" stroke="#cfcfcf" stroke-width="1"/>
<line x1="1002" y1="343.5" x2="1007.5" y2="343.5" stroke="#cfcfcf" stroke-width="1"/>
<line x1="1002" y1="321.5" x2="1007.5" y2="321.5" stroke="#cfcfcf" stroke-width="1"/>
<line x1="1002" y1="299.5" x2="1007.5" y2="299.5" stroke="#cfcfcf" stroke-width="1"/>
<line x1="1002" y1="277.5" x2="1007.5" y2="277.5" stroke="#cfcfcf" stroke-width="1"/>
<line x1="1002" y1="256.5" x2="1007.5" y2="256.5" stroke="#cfcfcf" stroke-width="1"/>
<line x1="1002" y1="234.5" x2="1007.5" y2="234.5" stroke="#cfcfcf" stroke-width="1"/>
<line x1="1002" y1="213" x2="1007.5" y2="213" stroke="#cfcfcf" stroke-width="1"/>
<line x1="1002" y1="191.5" x2="1007.5" y2="191.5" stroke="#cfcfcf" stroke-width="1"/>
<line x1="1002" y1="168.5" x2="1007.5" y2="168.5" stroke="#cfcfcf" stroke-width="1"/>
<line x1="1002" y1="147.5" x2="1007.5" y2="147.5" stroke="#cfcfcf" stroke-width="1"/>
<line x1="1002" y1="125.5" x2="1007.5" y2="125.5" stroke="#cfcfcf" stroke-width="1"/>
<line x1="1002" y1="104.5" x2="1007.5" y2="104.5" stroke="#cfcfcf" stroke-width="1"/>
<line x1="1002" y1="82.5" x2="1007.5" y2="82.5" stroke="#cfcfcf" stroke-width="1"/>
<line x1="1002" y1="61.5" x2="1007.5" y2="61.5" stroke="#cfcfcf" stroke-width="1"/>
<line x1="1002" y1="417.5" x2="1007.5" y2="417.5" stroke="#cfcfcf" stroke-width="1"/>
<line x1="1002" y1="437.5" x2="1007.5" y2="437.5" stroke="#cfcfcf" stroke-width="1"/>
<line x1="1002" y1="457.5" x2="1007.5" y2="457.5" stroke="#cfcfcf" stroke-width="1"/>
<line x1="1002" y1="476.5" x2="1007.5" y2="476.5" stroke="#cfcfcf" stroke-width="1"/>
<line x1="1002" y1="543.5" x2="1007.5" y2="543.5" stroke="#cfcfcf" stroke-width="1"/>
<line x1="1002" y1="567.5" x2="1007.5" y2="567.5" stroke="#cfcfcf" stroke-width="1"/>
<line x1="1002" y1="591.5" x2="1007.5" y2="591.5" stroke="#cfcfcf" stroke-width="1"/>
<line x1="29.5" y1="602" x2="29.5" y2="606.5" stroke="#cfcfcf" stroke-width="1"/>
<line x1="58.5" y1="602" x2="58.5" y2="606.5" stroke="#cfcfcf" stroke-width="1"/>
<line x1="88.5" y1="602" x2="88.5" y2="606.5" stroke="#cfcfcf" stroke-width="1"/>
<line x1="116.5" y1="602" x2="116.5" y2="606.5" stroke="#cfcfcf" stroke-width="1"/>
<line x1="155.5" y1="602" x2="155.5" y2="606.5" stroke="#cfcfcf" stroke-width="1"/>
<line x1="185.5" y1="602" x2="185.5" y2="606.5" stroke="#cfcfcf" stroke-width="1"/>
<line x1="204.5" y1="602" x2="204.5" y2="606.5" stroke="#cfcfcf" stroke-width="1"/>
<line x1="224.5" y1="602" x2="224.5" y2="606.5" stroke="#cfcfcf" stroke-width="1"/>
<line x1="253.5" y1="602" x2="253.5" y2="606.5" stroke="#cfcfcf" stroke-width="1"/>
<line x1="281.5" y1="602" x2="281.5" y2="606.5" stroke="#cfcfcf" stroke-width="1"/>
<line x1="310.5" y1="602" x2="310.5" y2="606.5" stroke="#cfcfcf" stroke-width="1"/>
<line x1="369.5" y1="602" x2="369.5" y2="606.5" stroke="#cfcfcf" stroke-width="1"/>
<line x1="397.5" y1="602" x2="397.5" y2="606.5" stroke="#cfcfcf" stroke-width="1"/>
<line x1="418.5" y1="602" x2="418.5" y2="606.5" stroke="#cfcfcf" stroke-width="1"/>
<line x1="445.5" y1="602" x2="445.5" y2="606.5" stroke="#cfcfcf" stroke-width="1"/>
<line x1="475.5" y1="602" x2="475.5" y2="606.5" stroke="#cfcfcf" stroke-width="1"/>
<line x1="505.5" y1="602" x2="505.5" y2="606.5" stroke="#cfcfcf" stroke-width="1"/>
<line x1="534.5" y1="602" x2="534.5" y2="606.5" stroke="#cfcfcf" stroke-width="1"/>
<line x1="592.5" y1="602" x2="592.5" y2="606.5" stroke="#cfcfcf" stroke-width="1"/>
<line x1="621.5" y1="602" x2="621.5" y2="606.5" stroke="#cfcfcf" stroke-width="1"/>
<line x1="649.5" y1="602" x2="649.5" y2="606.5" stroke="#cfcfcf" stroke-width="1"/>
<line x1="678.5" y1="602" x2="678.5" y2="606.5" stroke="#cfcfcf" stroke-width="1"/>
<line x1="708.5" y1="602" x2="708.5" y2="606.5" stroke="#cfcfcf" stroke-width="1"/>
<line x1="747.5" y1="602" x2="747.5" y2="606.5" stroke="#cfcfcf" stroke-width="1"/>
<rect x="25" y="10" width="886" height="51" fill="#fff" fill-opacity="0.5"/>
<rect x="25" y="61" width="886" height="7" fill="#fff" fill-opacity="0.9"/>
<rect x="25" y="382.4" width="256" height="16" fill="#fff" fill-opacity="0.7"/>
<rect x="25" y="494.7" width="561" height="13.5" fill="#fff" fill-opacity="0.85"/>
<g style="font-family:'DejaVu Sans','Noto Sans CJK JP',sans-serif" stroke-width="0.36">
<text x="25.2" y="24.2" fill="#333" stroke="#333" font-size="14" text-anchor="start" textLength="127.0" lengthAdjust="spacingAndGlyphs">PLTACTM/NMX+</text>
<text x="159.5" y="24.2" fill="#333" stroke="#333" font-size="14" text-anchor="start" textLength="65.2" lengthAdjust="spacingAndGlyphs">NYMEX2</text>
<text x="223.5" y="24.2" fill="#333" stroke="#333" font-size="14" text-anchor="start" textLength="62.7" lengthAdjust="spacingAndGlyphs"><tspan font-size="13.2" stroke-width="0.12">白金先物</tspan></text>
<text x="284.7" y="24.2" fill="#333" stroke="#333" font-size="14" text-anchor="start" textLength="53.9" lengthAdjust="spacingAndGlyphs">(<tspan font-size="13.2" stroke-width="0.12">全日</tspan>)</text>
<text x="337.3" y="24.2" fill="#333" stroke="#333" font-size="14" text-anchor="start" textLength="48.7" lengthAdjust="spacingAndGlyphs">25/07</text>
<text x="397.0" y="24.2" fill="#333" stroke="#333" font-size="14" text-anchor="start" textLength="48.6" lengthAdjust="spacingAndGlyphs"><tspan font-size="13.2" stroke-width="0.12">現在値</tspan></text>
<text x="451.4" y="24.2" fill="#333" stroke="#333" font-size="14" text-anchor="start" textLength="37.0" lengthAdjust="spacingAndGlyphs"><tspan font-size="13.2" stroke-width="0.12">日足</tspan>:</text>
<text x="495.5" y="24.2" fill="#333" stroke="#333" font-size="14" text-anchor="start" textLength="57.2" lengthAdjust="spacingAndGlyphs">1569.9</text>
<text x="24.7" y="42.3" fill="#ff00ff" stroke="#ff00ff" font-size="14" text-anchor="start" textLength="221.3" lengthAdjust="spacingAndGlyphs">FSMA SMA1(50): 1580.028</text>
<text x="252.0" y="42.3" fill="#00eeff" stroke="#00eeff" font-size="14" text-anchor="start" textLength="181.4" lengthAdjust="spacingAndGlyphs">SMA2(100): 1483.635</text>
<text x="439.2" y="42.3" fill="#00ee00" stroke="#00ee00" font-size="14" text-anchor="start" textLength="190.9" lengthAdjust="spacingAndGlyphs">SMA3(200): 1275.2185</text>
<text x="24.7" y="60.2" fill="#3377ff" stroke="#3377ff" font-size="14" text-anchor="start" textLength="151.9" lengthAdjust="spacingAndGlyphs">IKH(9, 26, 52, 26)</text>
<text x="180.2" y="60.2" fill="#3377ff" stroke="#3377ff" font-size="14" text-anchor="start" textLength="55.8" lengthAdjust="spacingAndGlyphs"><tspan font-size="13.2" stroke-width="0.12">転換線</tspan>:</text>
<text x="242.8" y="60.2" fill="#3377ff" stroke="#3377ff" font-size="14" text-anchor="start" textLength="57.0" lengthAdjust="spacingAndGlyphs">1577.8</text>
<text x="304.0" y="60.2" fill="#ff2a2a" stroke="#ff2a2a" font-size="14" text-anchor="start" textLength="55.0" lengthAdjust="spacingAndGlyphs"><tspan font-size="13.2" stroke-width="0.12">基準線</tspan>:</text>
<text x="366.5" y="60.2" fill="#ff2a2a" stroke="#ff2a2a" font-size="14" text-anchor="start" textLength="54.5" lengthAdjust="spacingAndGlyphs">1574.6</text>
<text x="428.5" y="60.2" fill="#ff2a2a" stroke="#ff2a2a" font-size="14" text-anchor="start" textLength="80.0" lengthAdjust="spacingAndGlyphs"><tspan font-size="13.2" stroke-width="0.12">先行スパン</tspan></text>
<text x="514.0" y="60.2" fill="#ff2a2a" stroke="#ff2a2a" font-size="14" text-anchor="start" textLength="17.0" lengthAdjust="spacingAndGlyphs">A:</text>
<text x="538.5" y="60.2" fill="#ff2a2a" stroke="#ff2a2a" font-size="14" text-anchor="start" textLength="56.2" lengthAdjust="spacingAndGlyphs">1576.2</text>
<text x="601.0" y="60.2" fill="#aa33ff" stroke="#aa33ff" font-size="14" text-anchor="start" textLength="80.0" lengthAdjust="spacingAndGlyphs"><tspan font-size="13.2" stroke-width="0.12">先行スパン</tspan></text>
<text x="687.8" y="60.2" fill="#aa33ff" stroke="#aa33ff" font-size="14" text-anchor="start" textLength="16.2" lengthAdjust="spacingAndGlyphs">B:</text>
<text x="711.5" y="60.2" fill="#aa33ff" stroke="#aa33ff" font-size="14" text-anchor="start" textLength="40.8" lengthAdjust="spacingAndGlyphs">1562</text>
<text x="757.0" y="60.2" fill="#33aa33" stroke="#33aa33" font-size="14" text-anchor="start" textLength="92.0" lengthAdjust="spacingAndGlyphs"><tspan font-size="13.2" stroke-width="0.12">遅行スパン</tspan>:</text>
<text x="852.8" y="60.2" fill="#33aa33" stroke="#33aa33" font-size="14" text-anchor="start" textLength="55.8" lengthAdjust="spacingAndGlyphs">1569.9</text>
<text x="24.5" y="395.2" fill="#333" stroke="#333" font-size="14" text-anchor="start" textLength="62.0" lengthAdjust="spacingAndGlyphs">RSI(14,</text>
<text x="94.0" y="395.2" fill="#333" stroke="#333" font-size="14" text-anchor="start" textLength="80.0" lengthAdjust="spacingAndGlyphs"><tspan font-size="13.2" stroke-width="0.12">ワイルダー</tspan></text>
<text x="172.8" y="395.2" fill="#333" stroke="#333" font-size="14" text-anchor="start" textLength="5.8" lengthAdjust="spacingAndGlyphs">)</text>
<text x="180.0" y="395.2" fill="#333" stroke="#333" font-size="14" text-anchor="start" textLength="6.0" lengthAdjust="spacingAndGlyphs">:</text>
<text x="194.0" y="395.2" fill="#333" stroke="#333" font-size="14" text-anchor="start" textLength="87.0" lengthAdjust="spacingAndGlyphs">50.109443</text>
<text x="24.7" y="505.2" fill="#ff2a2a" stroke="#ff2a2a" font-size="14" text-anchor="start" textLength="234.3" lengthAdjust="spacingAndGlyphs">MACD(12, 26, 9): -8.606184</text>
<text x="268.2" y="505.2" fill="#3333ee" stroke="#3333ee" font-size="14" text-anchor="start" textLength="61.1" lengthAdjust="spacingAndGlyphs"><tspan font-size="13.2" stroke-width="0.12">トリガー</tspan></text>
<text x="330.7" y="505.2" fill="#3333ee" stroke="#3333ee" font-size="14" text-anchor="start" textLength="5.3" lengthAdjust="spacingAndGlyphs">:</text>
<text x="342.3" y="505.2" fill="#3333ee" stroke="#3333ee" font-size="14" text-anchor="start" textLength="84.5" lengthAdjust="spacingAndGlyphs">-4.546946</text>
<text x="432.2" y="505.2" fill="#339933" stroke="#339933" font-size="14" text-anchor="start" textLength="154.7" lengthAdjust="spacingAndGlyphs">MACDF: -4.059237</text>
<text x="1011.2" y="369.0" fill="#333" stroke="#333" font-size="14" text-anchor="start" textLength="40.2" lengthAdjust="spacingAndGlyphs">1100</text>
<text x="1011.2" y="347.5" fill="#333" stroke="#333" font-size="14" text-anchor="start" textLength="40.2" lengthAdjust="spacingAndGlyphs">1150</text>
<text x="1011.2" y="325.5" fill="#333" stroke="#333" font-size="14" text-anchor="start" textLength="40.2" lengthAdjust="spacingAndGlyphs">1200</text>
<text x="1011.2" y="303.5" fill="#333" stroke="#333" font-size="14" text-anchor="start" textLength="40.2" lengthAdjust="spacingAndGlyphs">1250</text>
<text x="1011.2" y="281.5" fill="#333" stroke="#333" font-size="14" text-anchor="start" textLength="40.2" lengthAdjust="spacingAndGlyphs">1300</text>
<text x="1011.2" y="260.5" fill="#333" stroke="#333" font-size="14" text-anchor="start" textLength="40.2" lengthAdjust="spacingAndGlyphs">1350</text>
<text x="1011.2" y="238.5" fill="#333" stroke="#333" font-size="14" text-anchor="start" textLength="40.2" lengthAdjust="spacingAndGlyphs">1400</text>
<text x="1011.2" y="217.0" fill="#333" stroke="#333" font-size="14" text-anchor="start" textLength="40.2" lengthAdjust="spacingAndGlyphs">1450</text>
<text x="1011.2" y="195.5" fill="#333" stroke="#333" font-size="14" text-anchor="start" textLength="40.2" lengthAdjust="spacingAndGlyphs">1500</text>
<text x="1011.2" y="172.5" fill="#333" stroke="#333" font-size="14" text-anchor="start" textLength="40.2" lengthAdjust="spacingAndGlyphs">1550</text>
<text x="1011.2" y="151.5" fill="#333" stroke="#333" font-size="14" text-anchor="start" textLength="40.2" lengthAdjust="spacingAndGlyphs">1600</text>
<text x="1011.2" y="129.5" fill="#333" stroke="#333" font-size="14" text-anchor="start" textLength="40.2" lengthAdjust="spacingAndGlyphs">1650</text>
<text x="1011.2" y="108.5" fill="#333" stroke="#333" font-size="14" text-anchor="start" textLength="40.2" lengthAdjust="spacingAndGlyphs">1700</text>
<text x="1011.2" y="86.5" fill="#333" stroke="#333" font-size="14" text-anchor="start" textLength="40.2" lengthAdjust="spacingAndGlyphs">1750</text>
<text x="1011.2" y="65.5" fill="#333" stroke="#333" font-size="14" text-anchor="start" textLength="40.2" lengthAdjust="spacingAndGlyphs">1800</text>
<text x="1011.2" y="421.6" fill="#333" stroke="#333" font-size="14" text-anchor="start" textLength="19.8" lengthAdjust="spacingAndGlyphs">80</text>
<text x="1011.2" y="441.6" fill="#333" stroke="#333" font-size="14" text-anchor="start" textLength="19.8" lengthAdjust="spacingAndGlyphs">60</text>
<text x="1011.2" y="461.6" fill="#333" stroke="#333" font-size="14" text-anchor="start" textLength="19.8" lengthAdjust="spacingAndGlyphs">40</text>
<text x="1011.2" y="480.6" fill="#333" stroke="#333" font-size="14" text-anchor="start" textLength="19.8" lengthAdjust="spacingAndGlyphs">20</text>
<text x="1011.5" y="547.6" fill="#333" stroke="#333" font-size="14" text-anchor="start" textLength="19.8" lengthAdjust="spacingAndGlyphs">50</text>
<text x="1011.5" y="571.6" fill="#333" stroke="#333" font-size="14" text-anchor="start" textLength="9.9" lengthAdjust="spacingAndGlyphs">0</text>
<text x="1011.5" y="595.6" fill="#333" stroke="#333" font-size="14" text-anchor="start" textLength="26.5" lengthAdjust="spacingAndGlyphs">-50</text>
<text x="20.0" y="620.8" fill="#333" stroke="#333" font-size="14" text-anchor="start" textLength="19.8" lengthAdjust="spacingAndGlyphs">13</text>
<text x="49.1" y="620.8" fill="#333" stroke="#333" font-size="14" text-anchor="start" textLength="19.8" lengthAdjust="spacingAndGlyphs">18</text>
<text x="78.2" y="620.8" fill="#333" stroke="#333" font-size="14" text-anchor="start" textLength="19.8" lengthAdjust="spacingAndGlyphs">21</text>
<text x="107.2" y="620.8" fill="#333" stroke="#333" font-size="14" text-anchor="start" textLength="19.8" lengthAdjust="spacingAndGlyphs">26</text>
<text x="143.7" y="620.8" fill="#aa33ff" stroke="#aa33ff" font-size="14" text-anchor="start" textLength="24.4" lengthAdjust="spacingAndGlyphs">9<tspan font-size="13.2" stroke-width="0.12">月</tspan></text>
<text x="180.0" y="620.8" fill="#333" stroke="#333" font-size="14" text-anchor="start" textLength="9.9" lengthAdjust="spacingAndGlyphs">4</text>
<text x="199.4" y="620.8" fill="#333" stroke="#333" font-size="14" text-anchor="start" textLength="9.9" lengthAdjust="spacingAndGlyphs">8</text>
<text x="213.8" y="620.8" fill="#333" stroke="#333" font-size="14" text-anchor="start" textLength="19.8" lengthAdjust="spacingAndGlyphs">10</text>
<text x="242.9" y="620.8" fill="#333" stroke="#333" font-size="14" text-anchor="start" textLength="19.8" lengthAdjust="spacingAndGlyphs">15</text>
<text x="272.0" y="620.8" fill="#333" stroke="#333" font-size="14" text-anchor="start" textLength="19.8" lengthAdjust="spacingAndGlyphs">18</text>
<text x="301.1" y="620.8" fill="#333" stroke="#333" font-size="14" text-anchor="start" textLength="19.8" lengthAdjust="spacingAndGlyphs">23</text>
<text x="352.0" y="620.8" fill="#aa33ff" stroke="#aa33ff" font-size="14" text-anchor="start" textLength="34.3" lengthAdjust="spacingAndGlyphs">10<tspan font-size="13.2" stroke-width="0.12">月</tspan></text>
<text x="393.3" y="620.8" fill="#333" stroke="#333" font-size="14" text-anchor="start" textLength="9.9" lengthAdjust="spacingAndGlyphs">6</text>
<text x="412.6" y="620.8" fill="#333" stroke="#333" font-size="14" text-anchor="start" textLength="9.9" lengthAdjust="spacingAndGlyphs">8</text>
<text x="436.8" y="620.8" fill="#333" stroke="#333" font-size="14" text-anchor="start" textLength="19.8" lengthAdjust="spacingAndGlyphs">13</text>
<text x="465.9" y="620.8" fill="#333" stroke="#333" font-size="14" text-anchor="start" textLength="19.8" lengthAdjust="spacingAndGlyphs">16</text>
<text x="494.9" y="620.8" fill="#333" stroke="#333" font-size="14" text-anchor="start" textLength="19.8" lengthAdjust="spacingAndGlyphs">21</text>
<text x="524.0" y="620.8" fill="#333" stroke="#333" font-size="14" text-anchor="start" textLength="19.8" lengthAdjust="spacingAndGlyphs">24</text>
<text x="574.9" y="620.8" fill="#aa33ff" stroke="#aa33ff" font-size="14" text-anchor="start" textLength="34.3" lengthAdjust="spacingAndGlyphs">11<tspan font-size="13.2" stroke-width="0.12">月</tspan></text>
<text x="616.2" y="620.8" fill="#333" stroke="#333" font-size="14" text-anchor="start" textLength="9.9" lengthAdjust="spacingAndGlyphs">6</text>
<text x="640.3" y="620.8" fill="#333" stroke="#333" font-size="14" text-anchor="start" textLength="19.8" lengthAdjust="spacingAndGlyphs">11</text>
<text x="669.4" y="620.8" fill="#333" stroke="#333" font-size="14" text-anchor="start" textLength="19.8" lengthAdjust="spacingAndGlyphs">14</text>
<text x="698.5" y="620.8" fill="#333" stroke="#333" font-size="14" text-anchor="start" textLength="19.8" lengthAdjust="spacingAndGlyphs">19</text>
<text x="737.2" y="620.8" fill="#333" stroke="#333" font-size="14" text-anchor="start" textLength="19.8" lengthAdjust="spacingAndGlyphs">25</text>
</g>
<rect x="19" y="635" width="983" height="8.7" rx="4.3" fill="#e2e2e2"/>
<rect x="20.3" y="636.3" width="980.5" height="5" rx="2.5" fill="#ffffff"/>
<line x1="967" y1="639" x2="999" y2="639" stroke="#000" stroke-width="4" stroke-linecap="round"/>
</svg>
</body></html>
